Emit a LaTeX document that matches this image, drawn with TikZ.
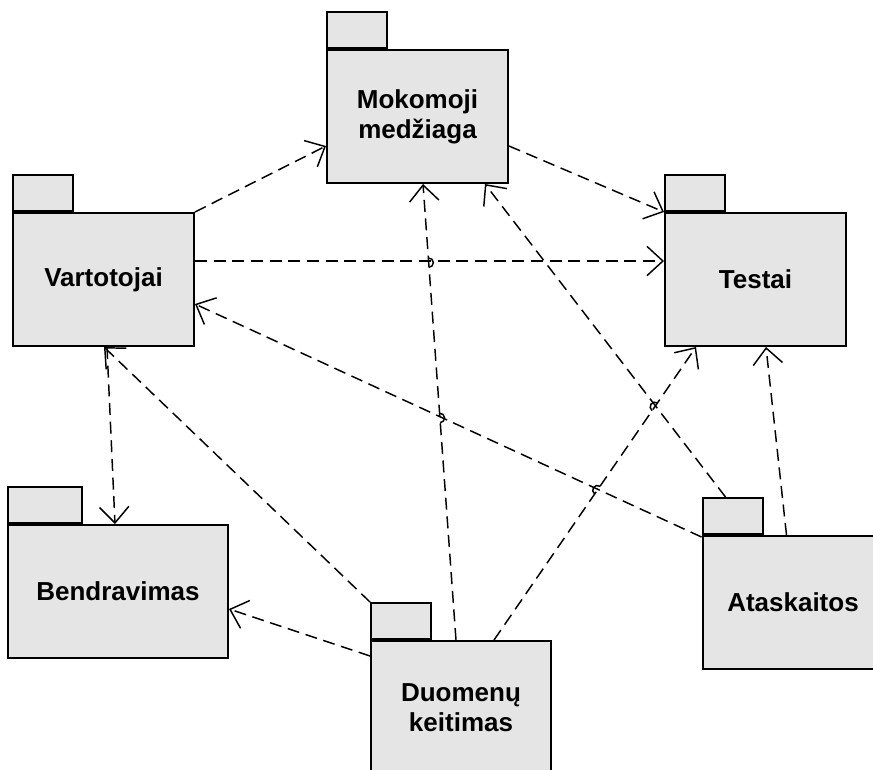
\documentclass[tikz,border=0pt]{standalone}
\usepackage{fontspec}
\setmainfont{Liberation Sans}
\usetikzlibrary{arrows.meta,calc}
\definecolor{pkgfill}{RGB}{229,229,229}
\tikzset{
  pkgbody/.style={draw, line width=1.5pt, fill=pkgfill, minimum width=135.75pt,
    minimum height=99.75pt, inner sep=0pt, align=center,
    font=\bfseries\fontsize{19.5pt}{22.5pt}\selectfont},
  pkgtab/.style={draw, line width=1.5pt, fill=pkgfill, minimum width=45pt,
    minimum height=27pt, inner sep=0pt, anchor=south west},
  dep/.style={line width=1.1pt, dash pattern=on 9pt off 5pt,
    -{Straight Barb[length=12pt, width=22pt, line width=1.1pt]}},
  hop/.pic={\draw[solid, -, line width=1.1pt] (-3.5pt,0) arc (180:0:3.5pt);}
}
\begin{document}
\begin{tikzpicture}[x=0.75pt, y=-0.75pt]
  \useasboundingbox (0,0) rectangle (873,769);
  \clip (0,0) rectangle (873,769);

  % packages: body first, tab on its upper left corner
  \node[pkgbody] (moko) at (417.5,116.5) {Mokomoji\\medžiaga};
  \node[pkgtab] (mokoT) at (moko.north west) {};
  \node[pkgbody] (vart) at (103.5,279.5) {Vartotojai};
  \node[pkgtab] (vartT) at (vart.north west) {};
  \node[pkgbody] (test) at (755.5,279.5) {Testai};
  \node[pkgtab] (testT) at (test.north west) {};
  \node[pkgbody, minimum width=165pt] (bend) at (118,591.5) {Bendravimas};
  \node[pkgtab, minimum width=55.5pt] (bendT) at (bend.north west) {};
  \node[pkgbody, minimum width=135pt] (duom) at (461,707.5) {Duomenų\\keitimas};
  \node[pkgtab] (duomT) at (duom.north west) {};
  \node[pkgbody] (atas) at (793,602.5) {Ataskaitos};
  \node[pkgtab] (atasT) at (atas.north west) {};

  % dependencies
  \draw[dep] (vart.north east) -- ($(moko.south west)+(0,-38)$);
  \draw[dep] ($(moko.south east)+(0,-38)$) -- (test.north west);
  \draw[dep] ($(vart.north east)+(0,49)$) -- ($(test.north west)+(0,49)$);
  \draw[dep] ($(atas.north west)+(0,2)$) -- ($(vart.north east)+(0,92)$);
  \draw[dep] ($(vart.south west)+(95,0)$) -- ($(bend.north west)+(108,0)$);
  \draw[dep] (duomT.north west) -- ($(vart.south west)+(92,0)$);
  \draw[dep] ($(duom.north west)+(0,16)$) -- ($(bend.north east)+(0,85)$);
  \draw[dep] ($(duom.north west)+(86,0)$) -- ($(moko.south west)+(97,0)$)
    pic[pos=0.487, sloped]{hop} pic[pos=0.8275, sloped]{hop};
  \draw[dep] ($(duom.north west)+(124,0)$) -- ($(test.south west)+(32,0)$)
    pic[pos=0.5115, sloped]{hop} pic[pos=0.796, sloped]{hop};
  \draw[dep] ($(atasT.north west)+(24,0)$) -- ($(moko.south west)+(159,0)$);
  \draw[dep] ($(atas.north west)+(85,0)$) -- ($(test.south west)+(102,0)$);
\end{tikzpicture}
\end{document}
